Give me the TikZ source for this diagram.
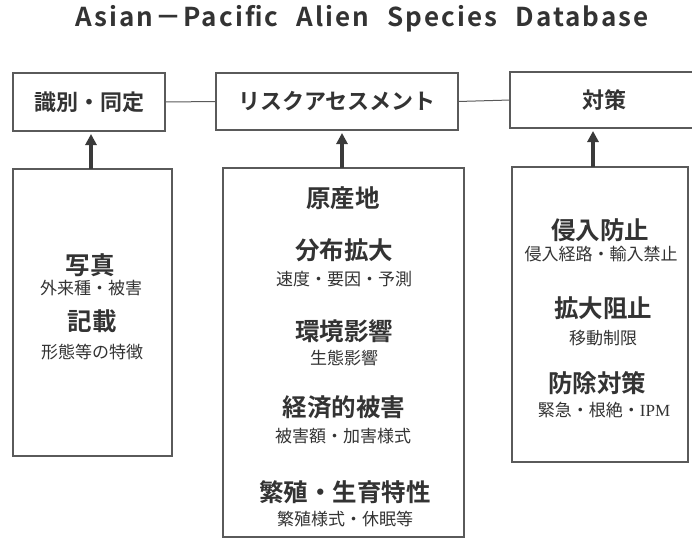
\documentclass[tikz,border=0pt]{standalone}
\usepackage{fontspec}
\newfontfamily\jp{Noto Sans CJK JP}
\newfontfamily\jpb{Noto Sans CJK JP Bold}
\newfontfamily\ser{Liberation Serif}
\definecolor{txt}{HTML}{333333}
\definecolor{brd}{HTML}{5A5A5A}
\definecolor{arr}{HTML}{3A3A3A}
\usetikzlibrary{arrows.meta}
\tikzset{
  topbox/.style={draw=brd, line width=1.1pt, inner sep=0pt, outer sep=0pt, text=txt, font=\jpb\fontsize{22}{24}\selectfont},
  lowbox/.style={draw=brd, line width=1.1pt, inner sep=0pt, outer sep=0pt},
  head/.style={text=txt, inner sep=0pt, font=\jpb\fontsize{24.5}{26}\selectfont},
  sub/.style={text=txt, inner sep=0pt, font=\jp\fontsize{17}{19}\selectfont},
  link/.style={draw=brd, line width=1pt},
  uparrow/.style={draw=arr, line width=3.8pt, -{Triangle[width=11pt,length=11pt]}, shorten >=3pt}
}
\begin{document}
\begin{tikzpicture}[x=1pt,y=-1pt]
\clip (0,0) rectangle (692,539);
\fill[white] (0,0) rectangle (692,539);
% title
\node[text=txt, inner sep=0pt, anchor=base, font=\jpb\fontsize{26}{28}\selectfont\addfontfeatures{LetterSpace=8}] (title) at (362,26) {Asian－Pacific\hspace{18pt}Alien\hspace{18pt}Species\hspace{18pt}Database};
% top boxes
\node[topbox, minimum width=152pt, minimum height=58pt] (t1) at (89,102) {識別・同定};
\node[topbox, minimum width=242pt, minimum height=57pt] (t2) at (337,101.5) {リスクアセスメント};
\node[topbox, minimum width=188pt, minimum height=56pt] (t3) at (604,100) {対策};
\draw[link] (t1.east) -- (t2.west);
\draw[link] (t2.east) -- (t3.west);
% lower boxes
\node[lowbox, minimum width=159pt, minimum height=287pt] (l1) at (92.5,312.5) {};
\node[lowbox, minimum width=241pt, minimum height=369pt] (l2) at (343.5,352.5) {};
\node[lowbox, minimum width=176pt, minimum height=295pt] (l3) at (600,314.5) {};
% arrows
\draw[uparrow] ([xshift=-1.5pt]l1.north) -- ([xshift=-1.5pt]l1.north |- t1.south);
\draw[uparrow] ([xshift=-1.5pt]l2.north) -- ([xshift=-1.5pt]l2.north |- t2.south);
\draw[uparrow] ([xshift=-7pt]l3.north) -- ([xshift=-7pt]l3.north |- t3.south);
% left box text
\node[head] (a1) at (90,265) {写真};
\node[sub]  (a2) at (91,288) {外来種・被害};
\node[head] (a3) at (92,321) {記載};
\node[sub]  (a4) at (92,352) {形態等の特徴};
% middle box text
\node[head] (b1) at (343,198) {原産地};
\node[head] (b2) at (344,250) {分布拡大};
\node[sub]  (b3) at (344,279) {速度・要因・予測};
\node[head] (b4) at (344,331) {環境影響};
\node[sub]  (b5) at (344,358) {生態影響};
\node[head] (b6) at (344,407) {経済的被害};
\node[sub]  (b7) at (343,436) {被害額・加害様式};
\node[head] (b8) at (345,492) {繁殖・生育特性};
\node[sub]  (b9) at (345,519) {繁殖様式・休眠等};
% right box text
\node[head] (c1) at (600,230) {侵入防止};
\node[sub]  (c2) at (601,254) {侵入経路・輸入禁止};
\node[head] (c3) at (603,308) {拡大阻止};
\node[sub]  (c4) at (603,338) {移動制限};
\node[head] (c5) at (597,383) {防除対策};
\node[sub]  (c6) at (604,410) {緊急・根絶・{\ser IPM}};
\end{tikzpicture}
\end{document}
